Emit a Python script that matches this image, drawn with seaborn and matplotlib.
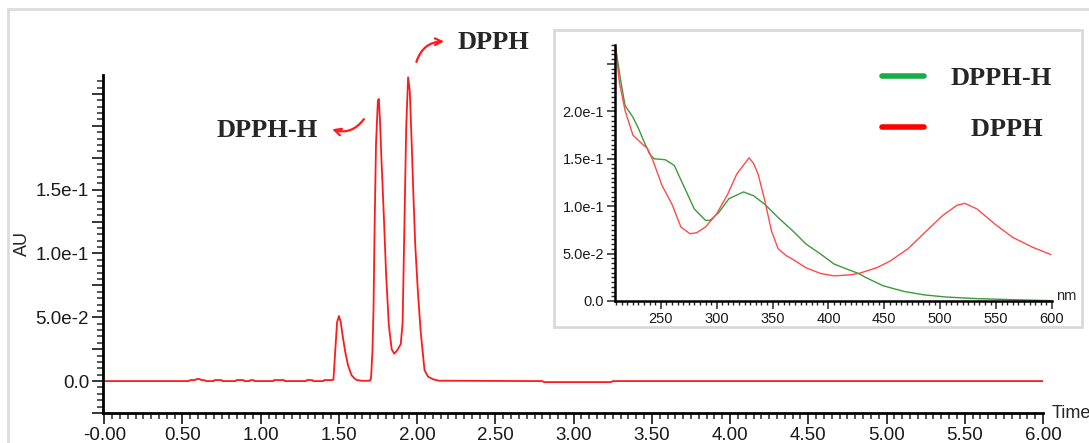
import matplotlib
matplotlib.use("Agg")
import matplotlib.pyplot as plt
import matplotlib.patches as mpatches
from matplotlib.lines import Line2D
from matplotlib.ticker import MultipleLocator
import pandas as pd
import seaborn as sns

# chromatogram (retention time in min, absorbance in AU)
TIME_MIN = [
    0.00, 0.54, 0.55, 0.58, 0.59, 0.61, 0.62, 0.64, 0.65, 0.70, 0.705, 0.75, 0.755,
    0.84, 0.845, 0.89, 0.895, 0.93, 0.935, 0.955, 0.96, 1.08, 1.085, 1.15, 1.155,
    1.29, 1.295, 1.33, 1.335, 1.40, 1.405, 1.455, 1.465, 1.477, 1.488, 1.50, 1.512,
    1.523, 1.54, 1.558, 1.58, 1.60, 1.616, 1.65, 1.698, 1.705, 1.714, 1.721, 1.728,
    1.737, 1.749, 1.755, 1.762, 1.772, 1.786, 1.802, 1.819, 1.837, 1.853, 1.872,
    1.895, 1.907, 1.919, 1.930, 1.942, 1.953, 1.965, 1.977, 1.988, 2.005, 2.023,
    2.047, 2.07, 2.105, 2.14, 2.80, 2.81, 3.24, 3.25, 6.00,
]
AU = [
    0.0, 0.0, 0.0008, 0.0008, 0.0016, 0.0016, 0.0008, 0.0008, 0.0, 0.0, 0.0008, 0.0008, 0.0,
    0.0, 0.0008, 0.0008, 0.0, 0.0, 0.0008, 0.0008, 0.0, 0.0, 0.0008, 0.0008, 0.0,
    0.0, 0.0008, 0.0008, 0.0, 0.0, 0.0008, 0.0008, 0.0012, 0.025, 0.046, 0.051, 0.046,
    0.036, 0.023, 0.0124, 0.0047, 0.002, 0.0008, 0.0002, 0.0003, 0.002, 0.023, 0.056, 0.121,
    0.186, 0.220, 0.221, 0.205, 0.173, 0.132, 0.082, 0.0435, 0.025, 0.0215, 0.024,
    0.029, 0.046, 0.126, 0.199, 0.238, 0.227, 0.186, 0.142, 0.106, 0.069, 0.038,
    0.0085, 0.0034, 0.0013, 0.0003, 0.0, -0.0008, -0.0008, 0.0, 0.0,
]

# UV-vis spectra of the two peaks
WL_DPPH_H = [209.5, 214, 218, 225, 230, 235, 240, 244, 254, 262, 271, 280, 290, 294, 302,
             311, 324, 333, 343, 355, 368, 380, 393, 405, 418, 427, 433, 449, 468, 486,
             505, 533, 565, 599]
ABS_DPPH_H = [0.268, 0.233, 0.206, 0.194, 0.182, 0.168, 0.155, 0.150, 0.149, 0.143, 0.120,
              0.097, 0.085, 0.085, 0.0935, 0.108, 0.115, 0.111, 0.102, 0.088, 0.074, 0.060,
              0.0495, 0.039, 0.033, 0.029, 0.025, 0.016, 0.010, 0.0064, 0.0042, 0.0025,
              0.0014, 0.0004]
WL_DPPH = [209.5, 213, 218, 225, 233, 238, 243, 251, 260, 268, 276, 282, 290, 300, 310,
           318, 329, 333, 337, 343, 349, 355, 362, 368, 380, 393, 405, 418, 427, 443, 455,
           471, 486, 502, 515, 522, 533, 549, 565, 583, 599]
ABS_DPPH = [0.268, 0.230, 0.201, 0.175, 0.166, 0.161, 0.148, 0.122, 0.102, 0.078, 0.071,
            0.072, 0.078, 0.092, 0.113, 0.134, 0.151, 0.145, 0.134, 0.106, 0.074, 0.055,
            0.048, 0.044, 0.035, 0.029, 0.0265, 0.0275, 0.029, 0.035, 0.042, 0.055, 0.072,
            0.090, 0.101, 0.103, 0.097, 0.081, 0.067, 0.0565, 0.049]

MAIN_XTICKS = [0.0, 0.5, 1.0, 1.5, 2.0, 2.5, 3.0, 3.5, 4.0, 4.5, 5.0, 5.5, 6.0]
MAIN_XTICK_LABELS = ["-0.00", "0.50", "1.00", "1.50", "2.00", "2.50", "3.00",
                     "3.50", "4.00", "4.50", "5.00", "5.50", "6.00"]
MAIN_YTICKS = [-0.025, 0.0, 0.025, 0.05, 0.075, 0.10, 0.125, 0.15, 0.175, 0.20, 0.225]
MAIN_YTICK_LABELS = ["", "0.0", "", "5.0e-2", "", "1.0e-1", "", "1.5e-1", "", "", ""]
INSET_XTICKS = [250, 300, 350, 400, 450, 500, 550, 600]
INSET_YTICKS = [0.0, 0.05, 0.10, 0.15, 0.20, 0.25]
INSET_YTICK_LABELS = ["0.0", "5.0e-2", "1.0e-1", "1.5e-1", "2.0e-1", ""]
SERIES = ["DPPH-H", "DPPH"]

sns.set_theme(style="white")
plt.rcParams["font.family"] = ["Liberation Sans", "DejaVu Sans"]
plt.rcParams["axes.unicode_minus"] = False

RED = "#ff1a1a"
SERIF = ["Liberation Serif", "DejaVu Serif"]

fig = plt.figure(figsize=(10.89, 4.43), dpi=100)

# light outer frame
fig.patches.append(mpatches.Rectangle((8 / 1089, -0.1), 1.2, 1.1 - 9 / 443, transform=fig.transFigure,
                                      fill=False, edgecolor="#dcdcdc", lw=2, zorder=0))

ax = fig.add_axes([103 / 1089, 1 - 413 / 443, 940 / 1089, 338 / 443], zorder=1)
ax.patch.set_alpha(0)
chrom = pd.DataFrame({"time": TIME_MIN, "au": AU})
sns.lineplot(data=chrom, x="time", y="au", color=RED, lw=1.3, ax=ax)
ax.set_xlim(-0.008, 6.0)
ax.set_ylim(-0.0242, 0.2398)
for s in ["top", "right"]:
    ax.spines[s].set_visible(False)
for s in ["left", "bottom"]:
    ax.spines[s].set_color("black")
    ax.spines[s].set_linewidth(2)
ax.set_xticks(MAIN_XTICKS)
ax.set_xticklabels(MAIN_XTICK_LABELS)
ax.set_yticks(MAIN_YTICKS)
ax.set_yticklabels(MAIN_YTICK_LABELS)
ax.xaxis.set_minor_locator(MultipleLocator(0.05))
ax.yaxis.set_minor_locator(MultipleLocator(0.005))
ax.tick_params(which="major", length=8, width=1.3, labelsize=13.5, labelcolor="#1a1a1a", pad=2,
               bottom=True, left=True)
ax.tick_params(which="minor", length=4, width=1.1, bottom=True, left=True)
ax.set_xlabel("")
ax.set_ylabel("AU", fontsize=13, labelpad=3)
ax.text(1.009, 0.0, "Time", transform=ax.transAxes, ha="left", va="center", fontsize=13)

ax.text(1.04, 0.196, "DPPH-H", family=SERIF, weight="bold", fontsize=19, ha="center", va="center")
ax.text(2.49, 0.265, "DPPH", family=SERIF, weight="bold", fontsize=19, ha="center", va="center",
        clip_on=False)
ax.annotate("", xy=(1.44, 0.198), xytext=(1.67, 0.207),
            arrowprops=dict(arrowstyle="->", color=RED, lw=1.6, connectionstyle="arc3,rad=-0.4"))
ax.annotate("", xy=(2.19, 0.266), xytext=(1.99, 0.248), annotation_clip=False,
            arrowprops=dict(arrowstyle="->", color=RED, lw=1.6, connectionstyle="arc3,rad=-0.4"))

# inset frame
fig.patches.append(mpatches.Rectangle((554 / 1089, 1 - 327 / 443), 528 / 1089, 297 / 443,
                                      transform=fig.transFigure, facecolor="white",
                                      edgecolor="#d9d9d9", lw=2, zorder=2))

ins = fig.add_axes([615 / 1089, 1 - 301 / 443, 437 / 1089, 256 / 443], zorder=3)
ins.patch.set_alpha(0)
spec = pd.concat([
    pd.DataFrame({"wl": WL_DPPH_H, "abs": ABS_DPPH_H, "series": SERIES[0]}),
    pd.DataFrame({"wl": WL_DPPH, "abs": ABS_DPPH, "series": SERIES[1]}),
])
sns.lineplot(data=spec, x="wl", y="abs", hue="series", palette={"DPPH-H": "#3c9a3c", "DPPH": "#ff4a4a"},
             lw=1.0, legend=False, ax=ins)
ins.set_xlim(209, 600)
ins.set_ylim(0, 0.27)
for s in ["top", "right"]:
    ins.spines[s].set_visible(False)
for s in ["left", "bottom"]:
    ins.spines[s].set_color("black")
    ins.spines[s].set_linewidth(1.8)
ins.set_xticks(INSET_XTICKS)
ins.set_yticks(INSET_YTICKS)
ins.set_yticklabels(INSET_YTICK_LABELS)
ins.xaxis.set_minor_locator(MultipleLocator(5))
ins.yaxis.set_minor_locator(MultipleLocator(0.005))
ins.tick_params(which="major", length=6, width=1.1, labelsize=10.5, labelcolor="#1a1a1a", pad=2,
                bottom=True, left=True)
ins.tick_params(which="minor", length=3, width=1.0, bottom=True, left=True)
ins.set_xlabel("")
ins.set_ylabel("")
ins.text(1.01, 0.02, "nm", transform=ins.transAxes, ha="left", va="center", fontsize=10.5)

handles = [Line2D([], [], color="#1aab4a", lw=4), Line2D([], [], color="#ff0000", lw=4)]
ins.legend(handles, [SERIES[0], "   " + SERIES[1]], loc="upper right", bbox_to_anchor=(1.0, 0.915),
           frameon=False, prop={"family": SERIF, "weight": "bold", "size": 19},
           handlelength=1.6, handletextpad=1.0, labelspacing=1.05, borderaxespad=0, borderpad=0)

fig.savefig("out.png", dpi=100)
